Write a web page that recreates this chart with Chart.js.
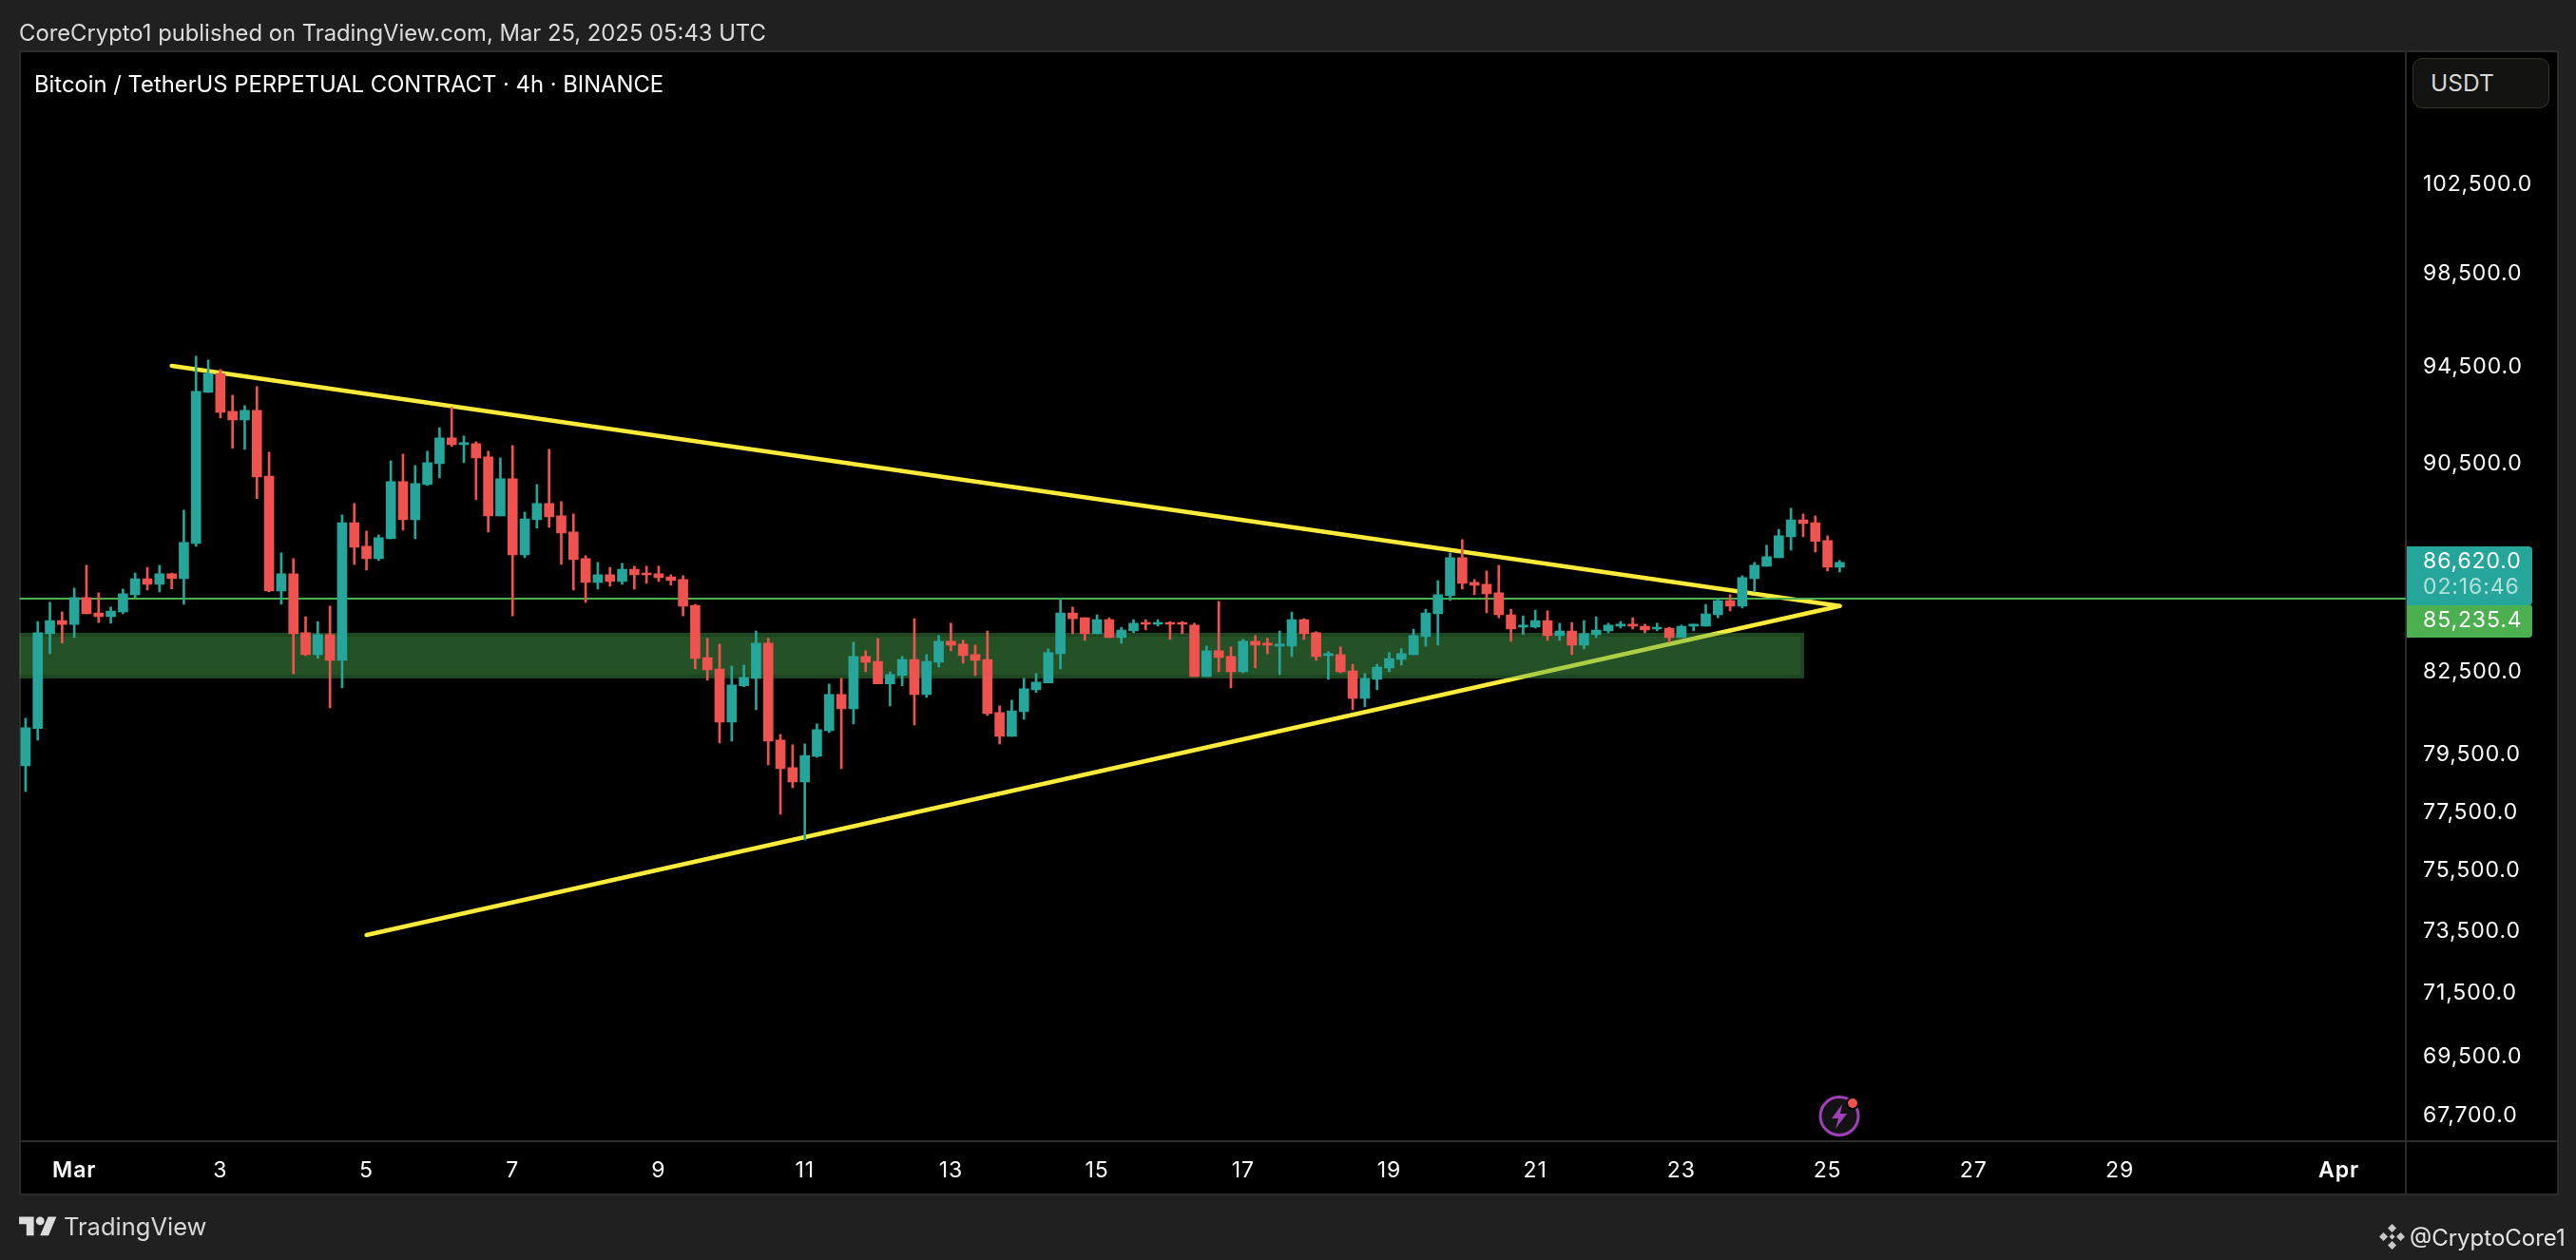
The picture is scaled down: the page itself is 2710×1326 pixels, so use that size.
<!DOCTYPE html>
<html>
<head>
<meta charset="utf-8">
<script src="https://cdn.jsdelivr.net/npm/chart.js@4/dist/chart.umd.js"></script>
<style>
html,body{margin:0;padding:0;width:2710px;height:1326px;background:#202020;overflow:hidden;font-family:Inter,sans-serif}
.abs{position:absolute;white-space:nowrap}
#frame{left:20px;top:53px;width:2668px;height:1201px;background:#000;border:2px solid #2c2c2c}
#v{left:2530px;top:53px;width:2px;height:1203px;background:#2c2c2c}
#h{left:20px;top:1200px;width:2670px;height:2px;background:#2c2c2c}
#c{position:absolute;left:0;top:0}
#pub{left:20px;top:21px;font-size:23.8px;line-height:28px;color:#dcdcdc}
#title{left:36px;top:75px;font-size:23.8px;line-height:28px;color:#fff}
#usdt{left:2538px;top:61px;width:142px;height:51px;border:1px solid #33332b;border-radius:10px;background:#131311;color:#d8d8d8;font-size:24.5px;line-height:51px;text-indent:18px}
#tv{left:67px;top:1275px;font-size:25.5px;line-height:32px;color:#d8d8d8}
#handle{left:2535px;top:1289px;font-size:24px;line-height:28px;color:#e4e4e4}
</style>
</head>
<body>
<div id="frame" class="abs"></div>
<div id="v" class="abs"></div>
<div id="h" class="abs"></div>
<canvas id="c" width="2710" height="1326"></canvas>
<div id="pub" class="abs">CoreCrypto1 published on TradingView.com, Mar 25, 2025 05:43 UTC</div>
<div id="title" class="abs">Bitcoin / TetherUS PERPETUAL CONTRACT · 4h · BINANCE</div>
<div id="usdt" class="abs">USDT</div>
<svg class="abs" style="left:20px;top:1276px" width="40" height="31" viewBox="0 0 36 28"><path fill="#dcdcdc" d="M14 22H7V11H0V4h14v18zM28 22h-8l7.5-18h8L28 22z"/><circle fill="#dcdcdc" cx="20" cy="8" r="4"/></svg>
<div id="tv" class="abs">TradingView</div>
<svg class="abs" style="left:2503px;top:1288px" width="27" height="27" viewBox="0 0 27 27"><g fill="#c8c8c8"><path d="M13.5 0l4.5 4.5-4.5 4.5-4.5-4.5z"/><path d="M13.5 18l4.5 4.5-4.5 4.5-4.5-4.5z"/><path d="M4.5 9l4.5 4.5-4.5 4.5L0 13.500z"/><path d="M22.500 9l4.5 4.5-4.500 4.500-4.500-4.500z"/><path d="M13.5 10.500l3 3-3 3-3-3z"/></g></svg>
<div id="handle" class="abs">@CryptoCore1</div>
<svg class="abs" style="left:1910px;top:1150px" width="50" height="50" viewBox="0 0 50 50">
<circle cx="25" cy="24.500" r="20" fill="#131313" stroke="#a040b8" stroke-width="3"/>
<path d="M28 12L17 27h7l-3 11 12-16h-7z" fill="#a040b8"/>
<circle cx="39" cy="11" r="7" fill="#000"/><circle cx="39" cy="11" r="5" fill="#ef5350"/>
</svg>
<script>
// OHLC of each 4h bar, starting Feb 28 08:00
const opens=[79120,80440,83910,84400,84260,85270,84690,84550,84730,85380,85990,85780,86175,85990,87350,93430,94220,92640,92290,92680,90010,85520,86175,83945,83130,83875,82920,88165,87245,86765,87540,89785,88275,89675,90510,91550,91280,91320,90780,88430,89900,86910,88275,88920,88430,87795,86765,85850,86140,85885,86355,86210,86175,86065,85960,84980,83025,82605,80675,81985,82260,83555,80030,79050,78555,79450,80370,81670,81150,83065,82885,82055,82365,82955,81670,82850,83630,83520,83135,82955,81015,80165,81050,81845,82090,83170,84690,84510,83910,84440,83770,84015,84335,84265,84335,84335,84230,82330,83275,83065,82500,83630,83555,83450,83450,84440,83945,83100,83135,82535,81530,82225,82640,82955,83135,83805,84655,85345,86800,85850,85775,85450,84620,84155,84155,84405,83840,84015,83485,83875,84015,84190,84265,84190,84085,84120,83770,84190,84190,84620,85160,84945,85995,86470,86800,87610,88275,88165,87465,86430];
const highs=[80810,84370,85090,84730,85630,86505,85450,84910,85600,86210,86430,86505,86210,88655,94945,94785,94380,93310,92880,93665,90975,86985,86765,84545,84370,84945,88465,88920,87835,87685,90625,90895,90435,91010,91975,92800,91630,91395,91010,90745,91245,88580,89675,91090,88995,88505,86875,86615,86430,86580,86470,86470,86470,86140,86105,85015,83735,83520,82710,82745,84015,83735,80235,79860,79895,80605,82055,82260,83590,83275,83735,82500,83065,84475,83135,83840,84300,83665,83485,84015,81255,81465,82260,82435,83345,85235,84910,84510,84620,84510,84155,84440,84440,84440,84370,84370,84300,83450,85125,83415,83700,83840,83735,84015,84725,84475,83980,83240,83415,82780,82435,82780,83205,83345,84085,84835,85920,86985,87500,85960,86285,86505,84835,84580,84800,84765,84300,84335,84405,84545,84300,84370,84510,84265,84300,84155,84230,84265,85015,85235,85380,86105,86615,87280,87905,88730,88505,88430,87650,86690];
const lows=[78220,80030,83170,83560,83770,84655,84330,84300,84655,85270,85560,85490,85600,85020,87240,93430,92370,91130,91090,89110,85490,85020,82435,83100,82990,81190,81915,86540,86320,86690,87540,87870,87540,89635,89935,91205,90550,89070,87795,88430,84580,86800,87945,87980,86540,85560,85090,85595,85705,85775,85595,85813,85885,85740,84580,82605,82190,79925,79995,81950,81115,79150,77430,78355,76550,79420,80300,79020,80605,82500,82055,81255,81985,80570,81565,82675,83275,82815,82365,80910,79895,80165,80775,81745,82090,82605,83910,83665,83910,83770,83555,83945,84050,84190,83700,83910,82330,82330,82500,81915,82465,82640,83170,82400,83065,83700,82920,82225,82465,81115,81220,81845,82500,82745,83135,83450,83485,85160,85595,85380,84690,84510,83630,83875,84120,83665,83665,83135,83345,83770,83945,84120,84085,83945,84015,83590,83770,84015,84190,84510,84765,84870,85490,86470,86800,87095,87610,87020,86285,86250];
const closes=[80470,83945,84400,84260,85270,84655,84550,84760,85415,85990,85780,86175,85990,87390,93470,94220,92600,92290,92680,89975,85520,86175,83910,83130,83875,82920,88165,87205,86765,87575,89785,88275,89710,90550,91550,91280,91360,90745,88430,89900,86910,88315,88920,88390,87760,86725,85850,86140,85885,86355,86140,86140,86030,85920,84945,82990,82570,80675,82020,82295,83555,79995,79020,78555,79485,80405,81670,81150,83065,82850,82055,82400,82955,81670,82885,83630,83485,83100,82920,80980,80165,81080,81880,82120,83205,84690,84475,83910,84440,83770,84050,84300,84265,84335,84265,84265,82330,83275,83025,82500,83630,83485,83485,83520,84440,83910,83065,83170,82500,81530,82260,82675,82990,83170,83840,84690,85380,86800,85815,85740,85415,84620,84085,84230,84405,83840,84015,83485,83910,84050,84230,84265,84190,84050,84155,83770,84190,84265,84655,85160,84945,86030,86505,86835,87650,88275,88130,87430,86430,86620];

const monthNames=['Feb','Mar','Apr'];
const monthLengths=[28,31,30];
const barsPerDay=6;
const categories=(function(){
  const out=[];
  for(let m=0;m<monthNames.length;m++){
    for(let d=1;d<=monthLengths[m];d++){
      for(let b=0;b<barsPerDay;b++){
        const hh=String(b*4).padStart(2,'0');
        out.push(monthNames[m]+' '+d+' '+hh+':00');
      }
    }
  }
  const start=out.indexOf('Feb 28 08:00');
  return out.slice(start,start+196);
})();
const tickDates=['Mar 1 00:00','Mar 3 00:00','Mar 5 00:00','Mar 7 00:00','Mar 9 00:00','Mar 11 00:00','Mar 13 00:00','Mar 15 00:00','Mar 17 00:00','Mar 19 00:00','Mar 21 00:00','Mar 23 00:00','Mar 25 00:00','Mar 27 00:00','Mar 29 00:00','Apr 1 00:00'];
const tickLabels=['Mar','3','5','7','9','11','13','15','17','19','21','23','25','27','29','Apr'];
const monthTicks=['Mar','Apr'];
const yTicks=[102500,98500,94500,90500,82500,79500,77500,75500,73500,71500,69500,67700];
const upperTrendDates=['Mar 2 08:00','Mar 25 04:00'];
const upperTrendValues=[94541,84954];
const lowerTrendDates=['Mar 5 00:00','Mar 25 04:00'];
const lowerTrendValues=[73378,84954];
const zoneLow=82256, zoneHigh=83943, zoneEndDate='Mar 24 16:00';
const levelPrice=85235.4;
const countdown='02:16:46';
const UP='#26a69a', DOWN='#ef5350', LEVEL='#4caf50', TREND='#ffeb3b';

const fmt=v=>v.toLocaleString('en-US',{minimumFractionDigits:1,maximumFractionDigits:1});
const barColors=opens.map((o,i)=>closes[i]>=o?UP:DOWN);
const wicks=lows.map((l,i)=>[l,highs[i]]);
const bodies=opens.map((o,i)=>[Math.min(o,closes[i]),Math.max(o,closes[i])]);
const FONT='Inter, sans-serif';
const ticksFont={family:FONT,size:23};

const overlay={
  id:'overlay',
  beforeDraw(chart){chart.ctx.letterSpacing='0.9px';},
  beforeDatasetDraw(chart,args){
    if(chart.data.datasets[args.index].label!=='wicks')return;
    const {ctx,chartArea:a,scales:{x,y}}=chart;
    const t=y.getPixelForValue(zoneHigh),b=y.getPixelForValue(zoneLow);
    const r=x.getPixelForValue(zoneEndDate)+1;
    ctx.save();
    // zone edge
    ctx.fillStyle='rgba(76,175,80,0.40)';
    ctx.fillRect(a.left,t,r-a.left,4);
    ctx.fillRect(a.left,b-4,r-a.left,4);
    ctx.fillRect(r-4,t+4,4,b-t-8);
    // zone fill
    ctx.fillStyle='rgba(76,175,80,0.47)';
    ctx.fillRect(a.left,t+4,r-4-a.left,b-t-8);
    // level line
    ctx.strokeStyle=LEVEL;ctx.lineWidth=2;
    const ly=Math.round(y.getPixelForValue(levelPrice));
    ctx.beginPath();ctx.moveTo(a.left,ly);ctx.lineTo(a.right,ly);ctx.stroke();
    ctx.restore();
  },
  afterDraw(chart){
    const {ctx,chartArea:a,scales:{y}}=chart;
    const last=closes[closes.length-1];
    const cy=y.getPixelForValue(last);
    const L=a.right+1,W=132;
    const top=Math.round(cy-17),mid=top+62,bot=mid+34;
    ctx.save();
    ctx.fillStyle=LEVEL;
    ctx.beginPath();ctx.roundRect(L,mid-1,W,bot-mid+1,[0,4,4,0]);ctx.fill();
    ctx.fillStyle=UP;
    ctx.beginPath();ctx.roundRect(L,top,W,mid-top,[0,4,4,0]);ctx.fill();
    ctx.textAlign='left';ctx.textBaseline='middle';
    ctx.font='23px '+FONT;
    ctx.fillStyle='#fff';
    ctx.fillText(fmt(last),a.right+18,top+16);
    ctx.fillStyle='rgba(255,255,255,0.65)';
    ctx.fillText(countdown,a.right+18,top+43);
    ctx.fillStyle='#fff';
    ctx.fillText(fmt(levelPrice),a.right+18,mid+16);
    ctx.restore();
  }
};

new Chart(document.getElementById('c'),{
  data:{
    labels:categories,
    datasets:[
      {type:'bar',label:'bodies',data:bodies,backgroundColor:barColors,barThickness:10,grouped:false,order:1},
      {type:'bar',label:'wicks',data:wicks,backgroundColor:barColors,barThickness:2,grouped:false,order:2},
      {type:'line',label:'upper trend',data:upperTrendDates.map((d,i)=>({x:d,y:upperTrendValues[i]})),borderColor:TREND,borderWidth:4.5,borderCapStyle:'round',pointRadius:0,order:3},
      {type:'line',label:'lower trend',data:lowerTrendDates.map((d,i)=>({x:d,y:lowerTrendValues[i]})),borderColor:TREND,borderWidth:4.5,borderCapStyle:'round',pointRadius:0,order:4}
    ]
  },
  options:{
    responsive:false,
    animation:false,
    devicePixelRatio:1,
    events:[],
    layout:{padding:{left:20.5,right:20,top:54,bottom:71}},
    plugins:{legend:{display:false},tooltip:{enabled:false},title:{display:false}},
    scales:{
      x:{
        type:'category',
        offset:true,
        grid:{display:false},
        border:{display:false},
        afterFit(s){s.height=54;},
        afterBuildTicks(s){s.ticks=s.ticks.filter(t=>tickDates.includes(s.getLabels()[t.value]));},
        ticks:{
          autoSkip:false,maxRotation:0,minRotation:0,color:'#fff',padding:9,
          callback(v){return tickLabels[tickDates.indexOf(this.getLabelForValue(v))];},
          font(ctx){return {family:FONT,size:23,weight:ctx.tick&&monthTicks.includes(ctx.tick.label)?600:400};}
        }
      },
      y:{
        type:'logarithmic',
        position:'right',
        min:66941,max:108747,
        grid:{display:false},
        border:{display:false},
        afterFit(s){s.width=159;},
        afterBuildTicks(s){s.ticks=yTicks.map(v=>({value:v}));},
        ticks:{
          autoSkip:false,color:'#fff',padding:10,font:ticksFont,
          callback(v){return fmt(v);}
        }
      }
    }
  },
  plugins:[overlay]
});
</script>
</body>
</html>
